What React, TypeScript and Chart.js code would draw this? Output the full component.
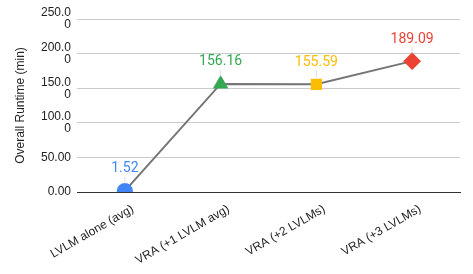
import React, { useEffect, useRef } from "react";
import { Chart, registerables } from "chart.js";

Chart.register(...registerables);

const categories = ["LVLM alone (avg)", "VRA (+1 LVLM avg)", "VRA (+2 LVLMs)", "VRA (+3 LVLMs)"];
const runtimes = [1.52, 156.16, 155.59, 189.09];
const pointColors = ["#4285F4", "#34A853", "#FBBC04", "#EA4335"];
const pointShapes = ["circle", "triangle", "rect", "rectRot"];
const yTicks = [0, 50, 100, 150, 200, 250];

const labelPlugin = {
  id: "valueLabels",
  afterDatasetsDraw(chart: any) {
    const ctx = chart.ctx;
    const meta = chart.getDatasetMeta(0);
    ctx.save();
    meta.data.forEach((pt: any, i: number) => {
      const x = pt.x;
      const y = pt.y;
      const labelY = y - 22;
      ctx.strokeStyle = "rgba(200,200,200,0.6)";
      ctx.lineWidth = 1;
      ctx.beginPath();
      ctx.moveTo(x, labelY + 8);
      ctx.lineTo(x, y - 7);
      ctx.stroke();
      ctx.fillStyle = pointColors[i];
      ctx.font = "14px Roboto, 'Noto Sans', sans-serif";
      ctx.textAlign = "center";
      ctx.textBaseline = "middle";
      ctx.fillText(runtimes[i].toFixed(2), x, labelY);
    });
    ctx.restore();
  },
};

export default function App() {
  const ref = useRef<HTMLCanvasElement | null>(null);
  useEffect(() => {
    document.body.style.margin = "0";
    const chart = new Chart(ref.current as HTMLCanvasElement, {
      type: "line",
      data: {
        labels: categories,
        datasets: [
          {
            data: runtimes,
            borderColor: "#757575",
            borderWidth: 2,
            pointStyle: pointShapes as any,
            pointBackgroundColor: pointColors,
            pointBorderColor: pointColors,
            pointRadius: [7, 7, 6.5, 7.5],
            pointHoverRadius: 7,
            tension: 0,
          },
        ],
      },
      options: {
        animation: false,
        responsive: false,
        maintainAspectRatio: false,
        layout: { padding: { top: 19, right: 13, left: 0, bottom: 0 } },
        plugins: { legend: { display: false }, tooltip: { enabled: false } },
        scales: {
          x: {
            offset: true,
            grid: { display: false },
            border: { color: "#333333", width: 1 },
            ticks: {
              color: "#222222",
              font: { family: "'Liberation Sans', Arial, sans-serif", size: 12 },
              minRotation: 30,
              maxRotation: 30,
              padding: 2,
              labelOffset: 8,
            },
            afterFit(scale: any) {
              scale.height = 82;
            },
          },
          y: {
            min: 0,
            max: 250,
            afterBuildTicks(scale: any) {
              scale.ticks = yTicks.map((v) => ({ value: v }));
            },
            grid: {
              color: (c: any) => (c.tick && c.tick.value === 0 ? "#333333" : "#cccccc"),
              drawTicks: false,
            },
            border: { display: false },
            ticks: {
              color: "#222222",
              padding: 6,
              font: { family: "'Liberation Sans', Arial, sans-serif", size: 12, lineHeight: 1.0 },
              callback: (v: any) => {
                const s = Number(v).toFixed(2);
                return s.length > 5 ? [s.slice(0, 5), s.slice(5)] : s;
              },
            },
            title: {
              display: true,
              text: "Overall Runtime (min)",
              color: "#222222",
              font: { family: "'Liberation Sans', Arial, sans-serif", size: 12 },
              padding: { top: 13, bottom: 0 },
            },
            afterFit(scale: any) {
              scale.width = 77;
            },
          },
        },
      },
      plugins: [labelPlugin],
    });
    return () => chart.destroy();
  }, []);
  return (
    <div style={{ width: 473, height: 274 }}>
      <canvas ref={ref} width={473} height={274} style={{ display: "block" }} />
    </div>
  );
}
